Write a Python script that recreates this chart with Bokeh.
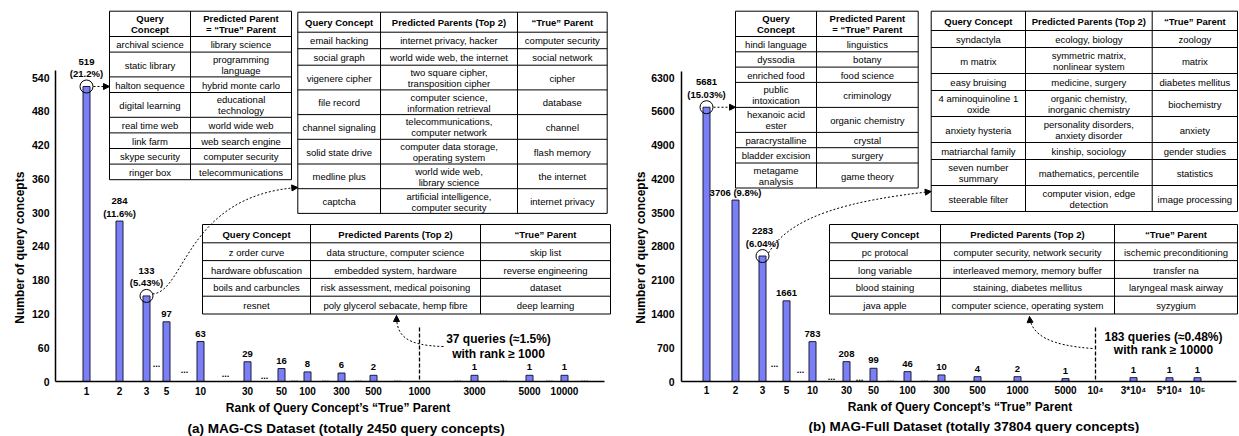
import math
from bokeh.plotting import figure
from bokeh.layouts import row
from bokeh.models import Range1d, FixedTicker, Arrow, NormalHead, Title
from bokeh.embed import file_html
from bokeh.resources import INLINE
from bokeh.core.properties import value

# ======================= DATA =======================
# (a) MAG-CS
cs_tick_labels = ["1", "2", "3", "5", "10", "30", "50", "100", "300", "500", "1000", "3000", "5000", "10000"]
cs_bar_ranks = ["1", "2", "3", "5", "10", "30", "50", "100", "300", "500", "3000", "5000", "10000"]
cs_counts = [519, 284, 133, 97, 63, 29, 16, 8, 6, 2, 1, 1, 1]
cs_shares = ["21.2%", "11.6%", "5.43%", None, None, None, None, None, None, None, None, None, None]
cs_bar_heights = [524, 285, 152, 106, 71, 35, 23, 17, 15, 11, 11, 11, 11]   # drawn heights
cs_y_ticks = [0, 60, 120, 180, 240, 300, 360, 420, 480, 540]
cs_tail_rank = "1000"
cs_tail_note = ["37 queries (≈1.5%)", "with rank ≥ 1000"]
cs_title = "(a) MAG-CS Dataset (totally 2450 query concepts)"

# (b) MAG-Full
full_tick_labels = ["1", "2", "3", "5", "10", "30", "50", "100", "300", "500", "1000", "5000",
                    "10⁴", "3*10⁴", "5*10⁴", "10⁵"]
full_bar_ranks = ["1", "2", "3", "5", "10", "30", "50", "100", "300", "500", "1000", "5000",
                  "3*10⁴", "5*10⁴", "10⁵"]
full_counts = [5681, 3706, 2283, 1661, 783, 208, 99, 46, 10, 4, 2, 1, 1, 1, 1]
full_shares = ["15.03%", "9.8%", "6.04%", None, None, None, None, None, None, None, None, None, None, None, None]
full_bar_heights = [5684, 3760, 2600, 1671, 826, 411, 274, 204, 135, 100, 100, 60, 80, 78, 78]
full_y_ticks = [0, 700, 1400, 2100, 2800, 3500, 4200, 4900, 5600, 6300]
full_tail_rank = "10⁴"
full_tail_note = ["183 queries (≈0.48%)", "with rank ≥ 10000"]
full_title = "(b) MAG-Full Dataset (totally 37804 query concepts)"

x_title = "Rank of Query Concept’s “True” Parent"
y_title = "Number of query concepts"

exact_header = ["Query\nConcept", "Predicted Parent\n= “True” Parent"]
top2_header = ["Query Concept", "Predicted Parents (Top 2)", "“True” Parent"]

cs_exact_rows = [
    ["archival science", "library science"],
    ["static library", "programming\nlanguage"],
    ["halton sequence", "hybrid monte carlo"],
    ["digital learning", "educational\ntechnology"],
    ["real time web", "world wide web"],
    ["link farm", "web search engine"],
    ["skype security", "computer security"],
    ["ringer box", "telecommunications"],
]
cs_near_rows = [
    ["email hacking", "internet privacy, hacker", "computer security"],
    ["social graph", "world wide web, the internet", "social network"],
    ["vigenere cipher", "two square cipher,\ntransposition cipher", "cipher"],
    ["file record", "computer science,\ninformation retrieval", "database"],
    ["channel signaling", "telecommunications,\ncomputer network", "channel"],
    ["solid state drive", "computer data storage,\noperating system", "flash memory"],
    ["medline plus", "world wide web,\nlibrary science", "the internet"],
    ["captcha", "artificial intelligence,\ncomputer security", "internet privacy"],
]
cs_far_rows = [
    ["z order curve", "data structure, computer science", "skip list"],
    ["hardware obfuscation", "embedded system, hardware", "reverse engineering"],
    ["boils and carbuncles", "risk assessment, medical poisoning", "dataset"],
    ["resnet", "poly glycerol sebacate, hemp fibre", "deep learning"],
]
full_exact_rows = [
    ["hindi language", "linguistics"],
    ["dyssodia", "botany"],
    ["enriched food", "food science"],
    ["public\nintoxication", "criminology"],
    ["hexanoic acid\nester", "organic chemistry"],
    ["paracrystalline", "crystal"],
    ["bladder excision", "surgery"],
    ["metagame\nanalysis", "game theory"],
]
full_near_rows = [
    ["syndactyla", "ecology, biology", "zoology"],
    ["m matrix", "symmetric matrix,\nnonlinear system", "matrix"],
    ["easy bruising", "medicine, surgery", "diabetes mellitus"],
    ["4 aminoquinoline 1\noxide", "organic chemistry,\ninorganic chemistry", "biochemistry"],
    ["anxiety hysteria", "personality disorders,\nanxiety disorder", "anxiety"],
    ["matriarchal family", "kinship, sociology", "gender studies"],
    ["seven number\nsummary", "mathematics, percentile", "statistics"],
    ["steerable filter", "computer vision, edge\ndetection", "image processing"],
]
full_far_rows = [
    ["pc protocal", "computer security, network security", "ischemic preconditioning"],
    ["long variable", "interleaved memory, memory buffer", "transfer na"],
    ["blood staining", "staining, diabetes mellitus", "laryngeal mask airway"],
    ["java apple", "computer science, operating system", "syzygium"],
]

# ======================= LAYOUT / STYLE =======================
FONT = "Liberation Sans"
BAR_FILL = "#7b7ff5"
BAR_LINE = "#1c1c3a"
ZERO_PX = 381.0
TICK_TOP_PX = 77.0
FRAME_H = 381
Y_TITLE_PAD = "\u00a0" * 34   # nudges the centred y title down along the axis

CS_X = {"1": 86, "2": 119, "3": 146, "5": 166, "10": 200, "30": 247, "50": 281, "100": 307,
        "300": 341, "500": 373, "1000": 419, "3000": 474, "5000": 529, "10000": 564}
FULL_X = {"1": 706, "2": 735, "3": 762, "5": 786, "10": 812, "30": 846, "50": 873, "100": 907,
          "300": 941, "500": 977, "1000": 1017, "5000": 1065, "10⁴": 1095, "3*10⁴": 1133,
          "5*10⁴": 1169, "10⁵": 1197}
CS_DOTS = [(156, 362), (184, 368), (225, 372), (264, 374), (294, 377), (325, 377), (358, 377),
           (397, 377), (457, 377), (503, 377), (549, 377), (584, 377)]
FULL_DOTS = [(774, 362), (800, 368), (831, 375), (859, 376), (890, 377), (924, 377.5), (961, 378),
             (998, 378), (1041, 378), (1082, 378), (1115, 378), (1151, 378), (1183, 378), (1216, 378)]


def make_fig(xr, frame_w, min_left, top_tick):
    y_end = top_tick * ZERO_PX / (ZERO_PX - TICK_TOP_PX)
    p = figure(x_range=Range1d(*xr), y_range=Range1d(0, y_end),
               frame_width=frame_w, frame_height=FRAME_H,
               output_backend="svg", toolbar_location=None,
               min_border_left=min_left, min_border_right=0, min_border_top=0, min_border_bottom=0,
               background_fill_color="white", border_fill_color="white")
    p.extra_y_ranges = {"px": Range1d(ZERO_PX, 0)}
    p.outline_line_color = None
    p.xgrid.visible = False
    p.ygrid.visible = False
    return p


def style_axes(p, tick_labels, xmap, y_ticks, x_bounds, y_bounds, lab_standoff, ttl_standoff,
               x_lab_standoff, x_ttl_standoff):
    xa = p.xaxis[0]
    ya = p.yaxis[0]
    pos = [xmap[l] for l in tick_labels]
    xa.ticker = FixedTicker(ticks=pos, minor_ticks=[])
    xa.major_label_overrides = {t: l for t, l in zip(pos, tick_labels)}
    ya.ticker = FixedTicker(ticks=y_ticks, minor_ticks=[])
    xa.bounds = x_bounds
    ya.bounds = y_bounds
    for ax in (xa, ya):
        ax.axis_line_color = "black"
        ax.axis_line_width = 1.5
        ax.major_tick_out = 0
        ax.major_tick_in = 0
        ax.minor_tick_out = 0
        ax.minor_tick_in = 0
        ax.major_label_text_font = FONT
        ax.major_label_text_font_style = "bold"
        ax.major_label_text_color = "black"
        ax.axis_label_text_font = FONT
        ax.axis_label_text_font_style = "bold"
        ax.axis_label_text_color = "black"
        ax.axis_label_text_font_size = "12px"
    xa.major_label_text_font_size = "10px"
    ya.major_label_text_font_size = "10.5px"
    xa.major_label_standoff = x_lab_standoff
    xa.axis_label_standoff = x_ttl_standoff
    ya.major_label_standoff = lab_standoff
    ya.axis_label_standoff = ttl_standoff
    xa.axis_label = x_title
    ya.axis_label = y_title + Y_TITLE_PAD


def draw_table(p, x_edges, y_top, h_head, h1, h2, header, rows):
    heights = [h_head] + [h2 if any("\n" in c for c in r) else h1 for r in rows]
    ys = [y_top]
    for h in heights:
        ys.append(ys[-1] + h)
    p.quad(left=[x_edges[0]], right=[x_edges[-1]], top=[ys[0]], bottom=[ys[-1]],
           fill_color="white", line_color="black", line_width=1, y_range_name="px")
    hy = ys[1:-1]
    p.segment(x0=[x_edges[0]] * len(hy), x1=[x_edges[-1]] * len(hy), y0=hy, y1=hy,
              line_color="black", line_width=1, y_range_name="px")
    vx = x_edges[1:-1]
    p.segment(x0=vx, x1=vx, y0=[ys[0]] * len(vx), y1=[ys[-1]] * len(vx),
              line_color="black", line_width=1, y_range_name="px")
    all_rows = [header] + rows
    for bold in (True, False):
        tx, ty, tt = [], [], []
        for ri, r in enumerate(all_rows):
            if (ri == 0) != bold:
                continue
            cy = (ys[ri] + ys[ri + 1]) / 2
            for ci, cell in enumerate(r):
                cx = (x_edges[ci] + x_edges[ci + 1]) / 2
                lines = cell.split("\n")
                n = len(lines)
                for li, line in enumerate(lines):
                    tx.append(cx)
                    ty.append(cy + (li - (n - 1) / 2) * 11.0 + 0.5)
                    tt.append(line)
        p.text(x=tx, y=ty, text=tt, text_align="center", text_baseline="middle",
               text_font=value(FONT), text_font_size="9.5px",
               text_font_style="bold" if bold else "normal", text_color="black",
               y_range_name="px")


def px_of(v, top_tick):
    return ZERO_PX - v * (ZERO_PX - TICK_TOP_PX) / top_tick


def curved_arrow(p, P0, P1, P2, P3):
    p.bezier(x0=[P0[0]], y0=[P0[1]], x1=[P3[0]], y1=[P3[1]], cx0=[P1[0]], cy0=[P1[1]],
             cx1=[P2[0]], cy1=[P2[1]], line_color="black", line_width=1, line_dash="2 2",
             y_range_name="px")
    dx, dy = P3[0] - P2[0], P3[1] - P2[1]
    d = math.hypot(dx, dy)
    dx, dy = dx / d, dy / d
    p.add_layout(Arrow(x_start=P3[0] - 4 * dx, y_start=P3[1] - 4 * dy, x_end=P3[0], y_end=P3[1],
                       line_alpha=0, y_range_name="px",
                       end=NormalHead(size=6, fill_color="black", line_color="black", line_width=1)))


def draw_bars(p, xmap, ranks, heights, counts, shares, circled, inline_share):
    xs = [xmap[r] for r in ranks]
    p.vbar(x=xs, top=heights, bottom=0, width=7, fill_color=BAR_FILL, line_color=BAR_LINE,
           line_width=1)
    tx, ty, tt, to = [], [], [], []
    for i, (x, h, c, s) in enumerate(zip(xs, heights, counts, shares)):
        base = -13 if i in circled else -8
        if s is None:
            lines = [str(c)]
        elif i in inline_share:
            lines = [f"{c} ({s})"]
        else:
            lines = [str(c), f"({s})"]
        for j, line in enumerate(reversed(lines)):
            tx.append(x)
            ty.append(h)
            tt.append(line)
            to.append(base - 12 * j)
    p.text(x=tx, y=ty, text=tt, y_offset=to, text_align="center", text_baseline="middle",
           text_font=value(FONT), text_font_size="9.5px", text_font_style="bold", text_color="black")
    p.scatter(x=[xs[i] for i in circled], y=[heights[i] for i in circled], marker="circle",
              size=13, fill_color=None, line_color="black", line_width=1)
    return xs


def draw_dots(p, dots):
    p.text(x=[d[0] for d in dots], y=[d[1] + 1 for d in dots], text=["..."] * len(dots),
           text_align="center", text_baseline="alphabetic", text_font=value(FONT),
           text_font_size="9px", text_font_style="bold", text_color="black", y_range_name="px")


def draw_tail(p, x, note, cx, ys):
    p.segment(x0=[x], x1=[x], y0=[327], y1=[ZERO_PX], line_color="black", line_width=1.3,
              line_dash="4 2", y_range_name="px")
    p.text(x=[cx, cx], y=ys, text=note, text_align="center", text_baseline="middle",
           text_font=value(FONT), text_font_size="12px", text_font_style="bold",
           text_color="black", y_range_name="px")


def add_caption(p, text, offset, standoff):
    p.add_layout(Title(text=text, align="left", offset=offset, text_font=FONT,
                       text_font_size="13.5px", text_font_style="bold", text_color="black",
                       standoff=standoff), "below")


# ======================= (a) MAG-CS =======================
p1 = make_fig((55, 620), 565, 55, 540)
style_axes(p1, cs_tick_labels, CS_X, cs_y_ticks, (55, 604), (0, 552), 6, 2, 5, 3)
xs1 = draw_bars(p1, CS_X, cs_bar_ranks, cs_bar_heights, cs_counts, cs_shares, [0, 2], [])
draw_dots(p1, CS_DOTS)
draw_table(p1, [109, 190, 291], 10.7, 25.3, 15.6, 24.8, exact_header, cs_exact_rows)
draw_table(p1, [297.3, 380, 517, 606.7], 11.7, 20.0, 16.5, 24.7, top2_header, cs_near_rows)
draw_table(p1, [202, 310, 480, 610], 224, 18.3, 17.8, 17.8, top2_header, cs_far_rows)
p1.add_layout(Arrow(x_start=xs1[0] + 7, y_start=cs_bar_heights[0], x_end=109, y_end=cs_bar_heights[0],
                    line_color="black", line_width=1, line_dash="2 2",
                    end=NormalHead(size=6, fill_color="black", line_color="black", line_width=1)))
y3 = px_of(cs_bar_heights[2], 540)
curved_arrow(p1, (xs1[2] + 6, y3 - 2), (185, y3 - 4), (185, 195), (297.3, 187))
draw_tail(p1, CS_X[cs_tail_rank], cs_tail_note, 498, [338, 353])
curved_arrow(p1, (443, 346), (405, 345), (396, 335), (396, 315))
add_caption(p1, cs_title, 132, 2)

# ======================= (b) MAG-Full =======================
p2 = make_fig((681, 1238), 557, 61, 6300)
style_axes(p2, full_tick_labels, FULL_X, full_y_ticks, (681, 1236), (0, 6420), 7, 0, 3, 1)
xs2 = draw_bars(p2, FULL_X, full_bar_ranks, full_bar_heights, full_counts, full_shares, [0, 2], [1])
draw_dots(p2, FULL_DOTS)
draw_table(p2, [735, 816, 917.7], 10.7, 25.3, 15.3, 25.0, exact_header, full_exact_rows)
draw_table(p2, [930.7, 1025, 1151.7, 1237], 10.7, 19.3, 17.0, 26.0, top2_header, full_near_rows)
draw_table(p2, [829, 940, 1114, 1237], 224, 18.3, 17.8, 17.8, top2_header, full_far_rows)
p2.add_layout(Arrow(x_start=xs2[0] + 7, y_start=full_bar_heights[0], x_end=735, y_end=full_bar_heights[0],
                    line_color="black", line_width=1, line_dash="2 2",
                    end=NormalHead(size=6, fill_color="black", line_color="black", line_width=1)))
y3b = px_of(full_bar_heights[2], 6300)
curved_arrow(p2, (xs2[2] + 6, y3b - 3), (790, 215), (850, 200), (930.7, 191))
draw_tail(p2, FULL_X[full_tail_rank], full_tail_note, 1163, [336, 349.5])
curved_arrow(p2, (1092, 348), (1050, 345), (1031, 335), (1029, 316))
add_caption(p2, full_title, 127, 0)

layout = row(p1, p2, spacing=0)
open("out.html", "w").write(file_html(layout, INLINE))
